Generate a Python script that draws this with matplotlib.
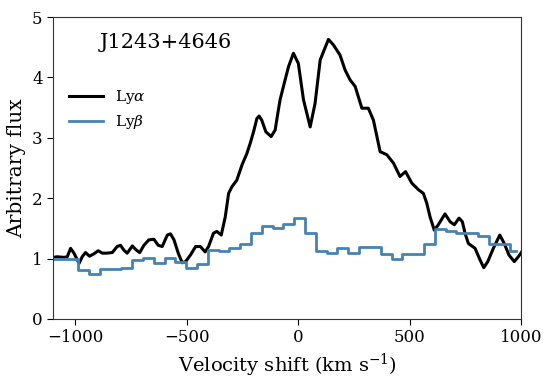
import matplotlib
matplotlib.use("Agg")
import matplotlib.pyplot as plt
import numpy as np

plt.rcParams['font.family'] = ['DejaVu Serif']
plt.rcParams['mathtext.fontset'] = 'dejavuserif'

# Ly-alpha profile (velocity km/s, flux)
lya_v = [-1100, -1081, -1051, -1036, -1021, -1006, -983, -969, -954, -936, -916, -897,
         -879, -860, -834, -812, -797, -782, -767, -744, -726, -711, -692, -670,
         -647, -628, -610, -587, -573, -557, -538, -520, -505, -483, -460, -439,
         -417, -402, -380, -365, -345, -327, -312, -297, -275, -252, -230, -215,
         -200, -185, -175, -163, -145, -121, -103, -91, -81, -66, -43, -21,
         1, 24, 54, 76, 99, 136, 158, 188, 211, 233, 256, 286,
         315, 338, 368, 398, 428, 457, 482, 510, 540, 562, 577, 592,
         611, 629, 659, 682, 701, 722, 737, 749, 764, 794, 816, 833,
         851, 876, 905, 925, 946, 970, 988, 1003]
lya_f = [1.02, 1.03, 1.02, 1.03, 1.17, 1.09, 0.92, 1.03, 1.10, 1.04, 1.08, 1.13,
         1.09, 1.09, 1.10, 1.20, 1.22, 1.14, 1.09, 1.21, 1.14, 1.10, 1.22, 1.31,
         1.32, 1.22, 1.20, 1.39, 1.41, 1.31, 1.09, 0.93, 0.95, 1.06, 1.20, 1.20,
         1.11, 1.20, 1.42, 1.45, 1.39, 1.69, 2.08, 2.19, 2.30, 2.55, 2.74, 2.91,
         3.10, 3.32, 3.36, 3.29, 3.10, 3.02, 3.13, 3.41, 3.63, 3.85, 4.18, 4.40,
         4.23, 3.63, 3.18, 3.57, 4.29, 4.63, 4.54, 4.37, 4.12, 3.96, 3.85, 3.49,
         3.49, 3.29, 2.77, 2.72, 2.58, 2.36, 2.44, 2.25, 2.14, 2.08, 1.92, 1.69,
         1.47, 1.56, 1.74, 1.61, 1.56, 1.67, 1.61, 1.42, 1.25, 1.17, 0.98, 0.85,
         0.95, 1.17, 1.39, 1.25, 1.06, 0.95, 1.03, 1.11]

# Ly-beta binned profile (bin centres km/s, flux)
lyb_v = [-1108.75, -1060.25, -1011.75, -963.25, -914.75, -866.25, -817.75, -769.25,
         -720.75, -672.25, -623.75, -575.25, -526.75, -478.25, -429.75, -381.25,
         -332.75, -284.25, -235.75, -187.25, -138.75, -90.25, -41.75, 6.75,
         55.25, 103.75, 152.25, 200.75, 249.25, 297.75, 346.25, 394.75,
         443.25, 491.75, 540.25, 588.75, 637.25, 685.75, 734.25, 782.75,
         831.25, 879.75, 928.25, 976.75]
lyb_f = [1.00, 1.00, 1.00, 0.81, 0.745, 0.82, 0.83, 0.84,
         0.98, 1.01, 0.93, 1.01, 0.94, 0.85, 0.91, 1.14,
         1.13, 1.17, 1.24, 1.43, 1.54, 1.50, 1.57, 1.68,
         1.42, 1.13, 1.10, 1.18, 1.10, 1.19, 1.19, 1.08,
         0.99, 1.08, 1.08, 1.24, 1.485, 1.46, 1.42, 1.42,
         1.37, 1.24, 1.24, 1.13]

title_text = "J1243+4646"

fig = plt.figure(figsize=(5.55, 3.84), dpi=100)
ax = fig.add_axes([0.0955, 0.1693, 0.8432, 0.7864])

ax.plot(lya_v, lya_f, color='black', lw=2.2, label=r'Ly$\alpha$')
ax.step(lyb_v, lyb_f, where='mid', color='#4682b4', lw=2.0, label=r'Ly$\beta$')

ax.set_xlim(-1100, 1000)
ax.set_ylim(0, 5)
ax.set_xticks([-1000, -500, 0, 500, 1000])
ax.set_yticks([0, 1, 2, 3, 4, 5])
ax.tick_params(labelsize=12, direction='out', length=4)
for s in ax.spines.values():
    s.set_color('#333333')

ax.set_xlabel(r'Velocity shift (km s$^{-1}$)', fontsize=14)
ax.set_ylabel('Arbitrary flux', fontsize=14.5)

ax.text(0.1, 0.915, title_text, transform=ax.transAxes, fontsize=15,
        va='center', ha='left')

ax.legend(loc='upper left', bbox_to_anchor=(0.005, 0.81), frameon=False,
          fontsize=11, handlelength=2.2, labelspacing=0.45)

fig.savefig('out.png', dpi=100)
